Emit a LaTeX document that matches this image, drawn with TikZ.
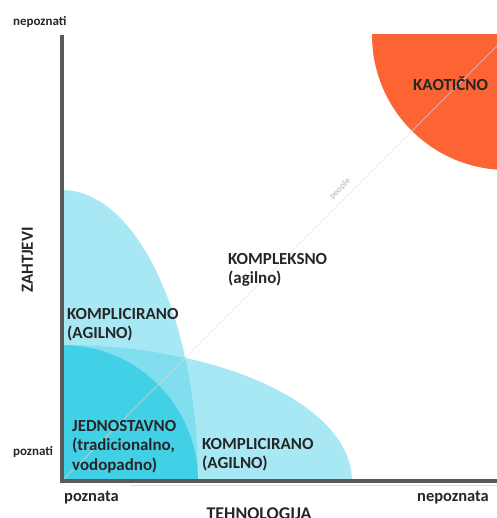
\documentclass[tikz,border=0pt]{standalone}
\usepackage{fontspec}
\setmainfont{Carlito}
\definecolor{chaos}{RGB}{252,100,52}
\definecolor{zone}{RGB}{97,213,235}
\definecolor{simple}{RGB}{66,208,230}
\definecolor{axis}{RGB}{90,90,90}
\begin{document}
\begin{tikzpicture}[x=1bp,y=-1bp,
    lbl/.style={font=\bfseries\fontsize{17}{19.5}\selectfont, text=black!85, inner sep=0pt, align=left},
    ax/.style={font=\bfseries\fontsize{13}{15}\selectfont, text=black!85, inner sep=0pt}]
    \useasboundingbox (0,0) rectangle (497,518);
    \coordinate (O) at (62,481);
    \coordinate (T) at (62,35);
    \coordinate (R) at (497,481);
    \coordinate (K) at (507,35);
    \coordinate (D) at (497,46);
    % chaos corner
    \begin{scope}
        \clip (0,35) rectangle (497,518);
        \fill[chaos] (K) circle (135);
    \end{scope}
    % blue zones
    \begin{scope}
        \clip (O) rectangle (497,0);
        \fill[zone, opacity=0.55] (O) ellipse [x radius=136, y radius=291];
        \fill[zone, opacity=0.55] (O) ellipse [x radius=290, y radius=136];
        \fill[simple] (O) circle (136);
    \end{scope}
    \draw[gray!25, opacity=0.8] (O) -- (D);
    \node[rotate=45, inner sep=0pt, text=gray!45, font=\bfseries\fontsize{9}{10}\selectfont] (ppl) at (340,189) {people};
    % axes
    \draw[gray!25, line width=1.5] (130,485.5) -- (R |- 0,485.5);
    \draw[axis, line width=4.5] (T) -- (O) -- (R);
    \node[ax, anchor=base west] (ymax) at (13,26) {nepoznati};
    \node[ax, anchor=base west] (ymin) at (13,455) {poznati};
    \node[ax, rotate=90, font=\bfseries\fontsize{17}{19}\selectfont] (ylab) at (27.5,260) {ZAHTJEVI};
    \node[ax, anchor=base west, font=\bfseries\fontsize{16.5}{19}\selectfont] (xmin) at (64,501) {poznata};
    \node[ax, anchor=base west, font=\bfseries\fontsize{16.5}{19}\selectfont] (xmax) at (417,501) {nepoznata};
    \node[ax, anchor=base, font=\bfseries\fontsize{18}{20}\selectfont] (xlab) at (259,519) {TEHNOLOGIJA};
    % zone labels
    \node[lbl, anchor=base west] (chaotic) at (413,91) {KAOTIČNO};
    \node[lbl, anchor=north west] (complex) at (228,253) {KOMPLEKSNO\\(agilno)};
    \node[lbl, anchor=north west] (complA) at (67,308) {KOMPLICIRANO\\(AGILNO)};
    \node[lbl, anchor=north west] (simpl) at (72,420) {JEDNOSTAVNO\\(tradicionalno,\\vodopadno)};
    \node[lbl, anchor=north west] (complB) at (202,438) {KOMPLICIRANO\\(AGILNO)};
\end{tikzpicture}
\end{document}
